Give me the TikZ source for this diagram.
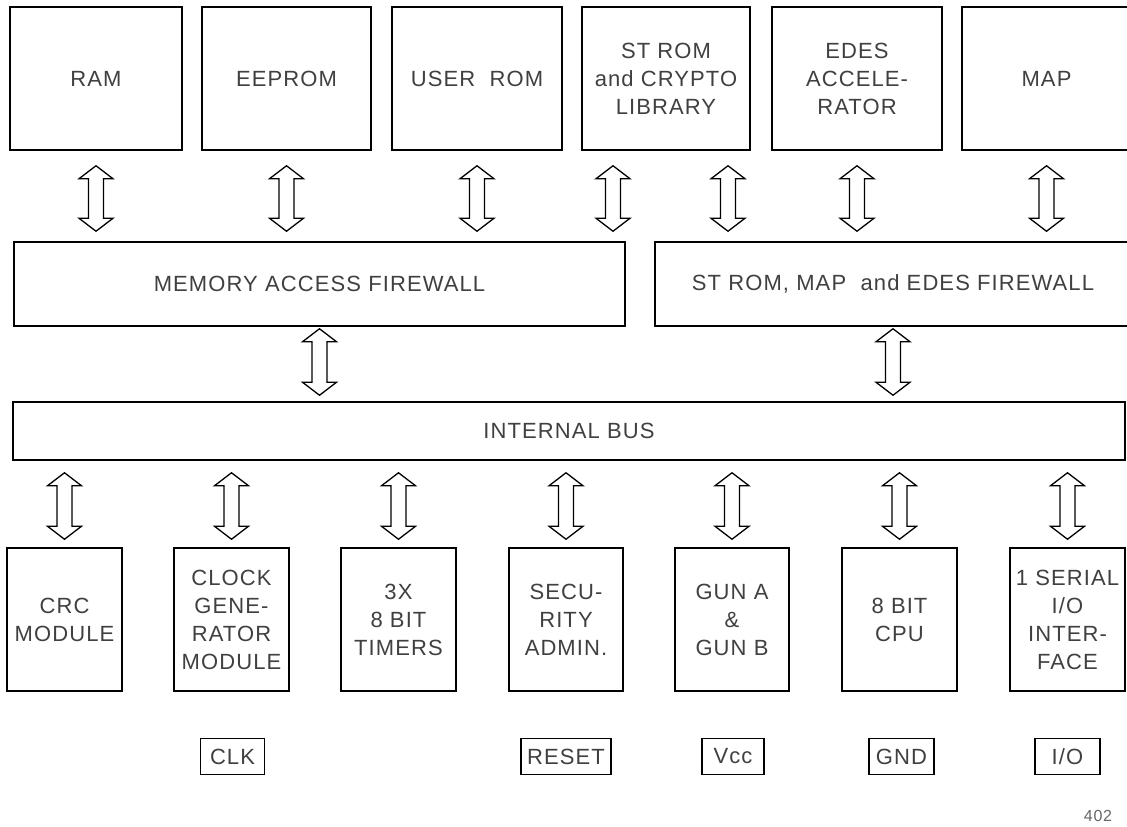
\documentclass[tikz,border=0pt]{standalone}
\usepackage{fontspec}
\setmainfont{Liberation Sans}[LetterSpace=5]
\usetikzlibrary{calc}
\tikzset{
  blk/.style={draw=black, line width=1.5pt, fill=white, inner sep=0pt, align=center,
    text=black!75, font=\fontsize{22}{28}\selectfont},
  topbox/.style={blk, minimum height=143, minimum width=170},
  botbox/.style={blk, minimum height=143, minimum width=115},
  pinbox/.style={blk, minimum height=36},
  bus/.style={draw=black, line width=1.3pt, fill=white, line join=miter,
    to path={let \p1=(\tikztostart), \p2=(\tikztotarget) in
      (\x1,\y1) -- (\x1+17pt,\y1-13pt) -- (\x1+7.5pt,\y1-13pt) -- (\x1+7.5pt,\y2+13pt)
      -- (\x1+17pt,\y2+13pt) -- (\x1,\y2) -- (\x1-17pt,\y2+13pt) -- (\x1-7.5pt,\y2+13pt)
      -- (\x1-7.5pt,\y1-13pt) -- (\x1-17pt,\y1-13pt) -- cycle}}
}
\begin{document}
\begin{tikzpicture}[x=1pt,y=-1pt]
\useasboundingbox (0,0) rectangle (1127,827);
% top row
\node[topbox, minimum width=172] (ram)   at (96,78.5) {RAM};
\node[topbox, minimum width=169] (eep)   at (286.5,78.5) {EEPROM};
\node[topbox] (urom)  at (477,78.5) {USER\ \ ROM};
\node[topbox, minimum width=168] (strom) at (666,78.5) {ST ROM\\and CRYPTO\\LIBRARY};
\node[topbox] (edes)  at (857,78.5) {EDES\\ACCELE-\\RATOR};
\node[topbox, minimum width=169] (map)   at (1046.5,78.5) {MAP};
% firewalls
\node[blk, minimum width=611, minimum height=84] (maf) at (319.5,284) {MEMORY ACCESS FIREWALL};
\node[blk, minimum width=476, minimum height=84] (sfw) at (893,284) {ST ROM, MAP\ \ and EDES FIREWALL};
% internal bus
\node[blk, minimum width=1112, minimum height=58] (ibus) at (569,431) {INTERNAL BUS};
% bottom row
\node[botbox] (crc)  at (64.5,619.5) {CRC\\MODULE};
\node[botbox] (clk)  at (231.5,619.5) {CLOCK\\GENE-\\RATOR\\MODULE};
\node[botbox] (tim)  at (398.5,619.5) {3X\\8 BIT\\TIMERS};
\node[botbox, minimum width=114] (sec)  at (566,619.5) {SECU-\\RITY\\ADMIN.};
\node[botbox, minimum width=114] (gun)  at (732,619.5) {GUN A\\\&\\GUN B};
\node[botbox] (cpu)  at (899.5,619.5) {8 BIT\\CPU};
\node[botbox] (ser)  at (1067.5,619.5) {1 SERIAL\\I/O\\INTER-\\FACE};
% pins
\node[pinbox, minimum width=64] (pclk) at (232.5,756.5) {CLK};
\node[pinbox, minimum width=90] (prst) at (566,756.5) {RESET};
\node[pinbox, minimum width=62] (pvcc) at (733,756.5) {Vcc};
\node[pinbox, minimum width=65] (pgnd) at (901.5,756.5) {GND};
\node[pinbox, minimum width=65] (pio)  at (1067.5,756.5) {I/O};
\node[text=black!60, font=\fontsize{16}{18}\selectfont] (fig) at (1098,816) {402};
% arrows top
\draw[bus] ([yshift=-15]ram.south) to ([yshift=10]ram.south |- maf.north);
\draw[bus] ([yshift=-15]eep.south) to ([yshift=10]eep.south |- maf.north);
\draw[bus] ([yshift=-15]urom.south) to ([yshift=10]urom.south |- maf.north);
\draw[bus] ([yshift=-15,xshift=-53]strom.south) to ([yshift=10,xshift=-53]strom.south |- maf.north);
\draw[bus] ([yshift=-15,xshift=62]strom.south) to ([yshift=10,xshift=62]strom.south |- sfw.north);
\draw[bus] ([yshift=-15]edes.south) to ([yshift=10]edes.south |- sfw.north);
\draw[bus] ([yshift=-15]map.south) to ([yshift=10]map.south |- sfw.north);
% arrows middle
\draw[bus] ([yshift=-2]maf.south) to ([yshift=6]maf.south |- ibus.north);
\draw[bus] ([yshift=-2]sfw.south) to ([yshift=6]sfw.south |- ibus.north);
% arrows bottom
\foreach \n in {crc,clk,tim,sec,gun,cpu,ser}{
  \draw[bus] ([yshift=-12]\n.north |- ibus.south) to ([yshift=8]\n.north);
}
\end{tikzpicture}
\end{document}
